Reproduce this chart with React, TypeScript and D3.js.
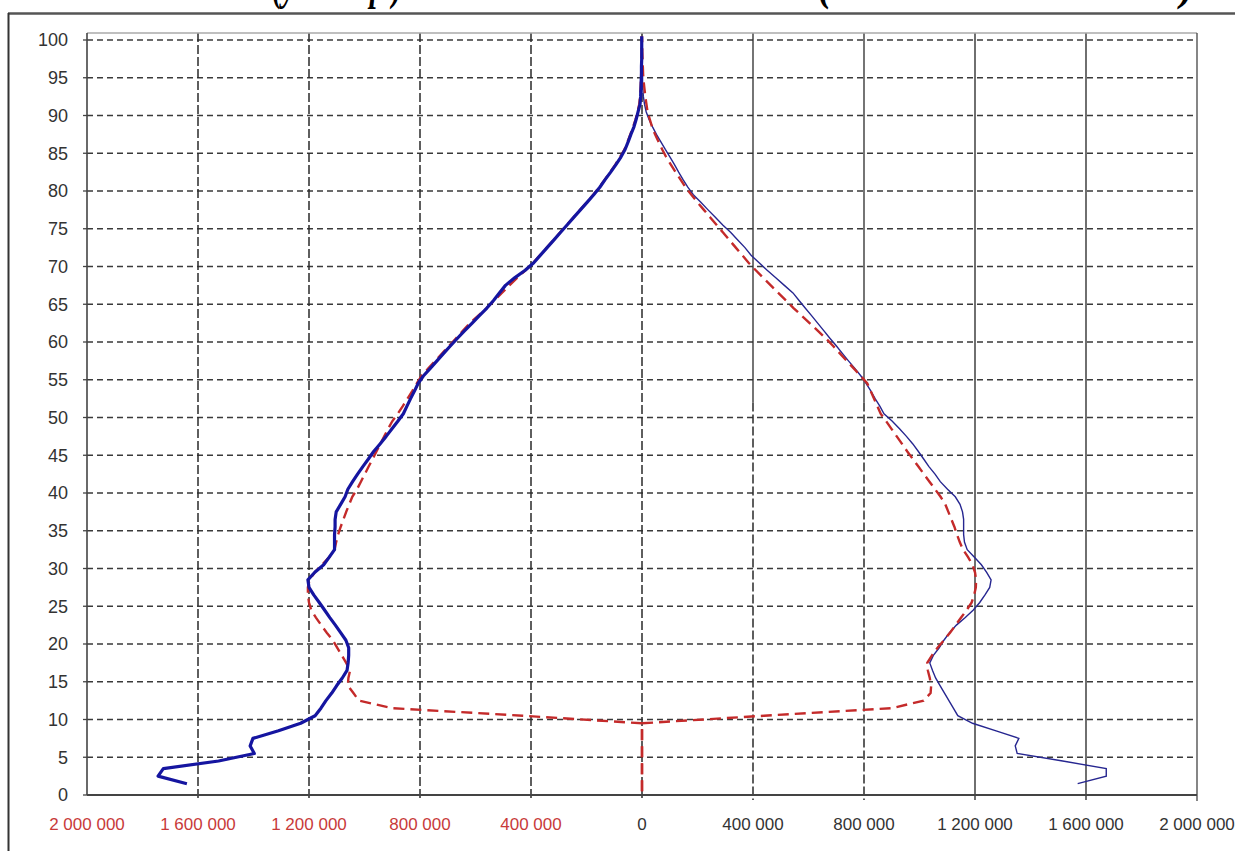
import React, { useEffect, useRef } from 'react';
import * as d3 from 'd3';

// age categories (single years) and axis ticks
const ages = d3.range(0, 101);
const xTickValues = [-2000000, -1600000, -1200000, -800000, -400000, 0, 400000, 800000, 1200000, 1600000, 2000000];
const yTickValues = [0, 5, 10, 15, 20, 25, 30, 35, 40, 45, 50, 55, 60, 65, 70, 75, 80, 85, 90, 95, 100];

// thousands of people, index = age
const leftSolid = [null, 1640, 1744, 1725, 1526, 1397, 1412, 1402, 1310, 1230,
  1178, 1157, 1139, 1118, 1100, 1080, 1063, 1059, 1057, 1057,
  1067, 1086, 1105, 1125, 1144, 1163, 1183, 1200, 1204, 1179,
  1147, 1127, 1108, 1108, 1108, 1106, 1106, 1102, 1086, 1070,
  1060, 1043, 1025, 1006, 986, 967, 944, 922, 901, 880,
  860, 847, 834, 820, 807, 788, 763, 739, 715, 690,
  665, 639, 612, 586, 559, 535, 514, 492, 459, 421,
  390, 366, 342, 318, 294, 270, 246, 222, 198, 174,
  152, 133, 113, 94, 76, 61, 50, 40, 29, 21,
  14, 7, 5, 4, 3, 2, 2, 1, 1, 1, 1];

const leftDashed = [0, 0, 0, 0, 0, 0, 0, 0, 0, 0,
  430, 900, 1020, 1040, 1060, 1058, 1052, 1066, 1082, 1098,
  1114, 1136, 1156, 1175, 1192, 1200, 1204, 1204, 1198, 1179,
  1153, 1127, 1108, 1102, 1095, 1086, 1076, 1066, 1055, 1044,
  1027, 1013, 999, 985, 971, 957, 943, 929, 915, 900,
  880, 862, 845, 828, 812, 795, 770, 745, 720, 695,
  670, 645, 620, 590, 560, 532, 505, 478, 450, 420,
  392, 367, 343, 319, 295, 271, 247, 223, 199, 176,
  154, 134, 115, 96, 79, 63, 52, 42, 32, 23,
  16, 10, 7, 5, 4, 3, 2, 2, 1, 1, 1];

const rightSolid = [null, 1570, 1673, 1673, 1516, 1352, 1345, 1358, 1276, 1191,
  1138, 1122, 1106, 1090, 1074, 1058, 1047, 1037, 1050, 1071,
  1088, 1108, 1133, 1165, 1194, 1217, 1236, 1253, 1258, 1242,
  1223, 1198, 1172, 1162, 1159, 1159, 1159, 1155, 1146, 1129,
  1101, 1075, 1056, 1034, 1015, 996, 976, 953, 928, 902,
  872, 857, 840, 825, 808, 789, 767, 744, 722, 700,
  677, 655, 633, 611, 588, 566, 544, 513, 482, 451,
  422, 393, 371, 345, 320, 291, 265, 238, 212, 185,
  165, 148, 132, 117, 101, 84, 68, 52, 38, 25,
  15, 9, 5, 3, 2, 2, 1, 1, 1, 1, 1];

const rightDashed = [0, 0, 0, 0, 0, 0, 0, 0, 0, 0,
  440, 900, 1015, 1040, 1042, 1037, 1030, 1028, 1045, 1065,
  1088, 1110, 1130, 1150, 1170, 1188, 1197, 1203, 1204, 1200,
  1191, 1175, 1157, 1145, 1135, 1126, 1115, 1104, 1093, 1076,
  1056, 1036, 1016, 996, 976, 956, 937, 918, 899, 880,
  860, 848, 836, 824, 812, 788, 763, 738, 713, 688,
  662, 633, 604, 575, 546, 519, 491, 464, 437, 410,
  384, 361, 338, 315, 292, 269, 246, 223, 200, 178,
  157, 139, 121, 104, 87, 73, 60, 47, 36, 28,
  20, 16, 12, 9, 6, 4, 3, 2, 1, 1, 0];

const titleLeft = '(у 2001 р.)';
const titleRight = '(чоловіки та жінки)';

const W = 1235;
const H = 851;

function drawChart(node: SVGSVGElement) {
  const svg = d3.select(node);
  svg.selectAll('*').remove();

  const left = 87, right = 1197, top = 33, bottom = 795;
  const x = d3.scaleLinear().domain([-2000000, 2000000]).range([left, right]);
  const y = d3.scaleLinear().domain([0, 100]).range([bottom, 40]);
  const fmt = (v: number) => d3.format(',')(Math.abs(v)).replace(/,/g, ' ');
  const font = "'Liberation Sans', Arial, sans-serif";

  svg.append('rect').attr('width', W).attr('height', H).attr('fill', '#fff');

  // title sits above the frame and is cut by the top edge
  svg.append('text').attr('x', 272).attr('y', 0)
    .attr('textLength', 130).attr('lengthAdjust', 'spacingAndGlyphs')
    .style('font-family', "'Liberation Serif', serif").style('font-size', '44px')
    .style('font-weight', 'bold').style('font-style', 'italic')
    .text(titleLeft);
  svg.append('text').attr('x', 818).attr('y', 0)
    .attr('textLength', 376).attr('lengthAdjust', 'spacingAndGlyphs')
    .style('font-family', "'Liberation Serif', serif").style('font-size', '44px')
    .style('font-weight', 'bold').style('font-style', 'italic')
    .text(titleRight);

  // outer frame
  svg.append('line').attr('x1', 8).attr('x2', W).attr('y1', 13.5).attr('y2', 13.5)
    .attr('stroke', '#555').attr('stroke-width', 2.5);
  svg.append('line').attr('x1', 8.5).attr('x2', 8.5).attr('y1', 13).attr('y2', H)
    .attr('stroke', '#333').attr('stroke-width', 2);

  const g = svg.append('g');

  // horizontal grid
  g.selectAll('.hgrid').data(yTickValues.filter(v => v > 0)).enter().append('line')
    .attr('class', 'hgrid')
    .attr('x1', left).attr('x2', right)
    .attr('y1', d => y(d)).attr('y2', d => y(d))
    .attr('stroke', '#3a3a3a').attr('stroke-width', 1.6).attr('stroke-dasharray', '6,4');

  // vertical grid
  const inner = xTickValues.filter(v => v > -2000000 && v < 2000000);
  inner.forEach((v) => {
    if (v <= 0) {
      g.append('line').attr('x1', x(v)).attr('x2', x(v)).attr('y1', top).attr('y2', bottom + 5)
        .attr('stroke', '#2a2a2a').attr('stroke-width', 1.5).attr('stroke-dasharray', '9,3');
    } else if (v < 1200000) {
      g.append('line').attr('x1', x(v)).attr('x2', x(v)).attr('y1', top).attr('y2', y(52))
        .attr('stroke', '#2a2a2a').attr('stroke-width', 1.3);
      g.append('line').attr('x1', x(v)).attr('x2', x(v)).attr('y1', y(52)).attr('y2', bottom + 5)
        .attr('stroke', '#2a2a2a').attr('stroke-width', 1.5).attr('stroke-dasharray', '9,3');
    } else {
      g.append('line').attr('x1', x(v)).attr('x2', x(v)).attr('y1', top).attr('y2', bottom + 5)
        .attr('stroke', '#222').attr('stroke-width', 1.3);
    }
  });

  // plot border + axes
  g.append('line').attr('x1', left).attr('x2', right).attr('y1', top).attr('y2', top)
    .attr('stroke', '#aaa').attr('stroke-width', 1.5);
  g.append('line').attr('x1', right).attr('x2', right).attr('y1', top).attr('y2', bottom + 6)
    .attr('stroke', '#444').attr('stroke-width', 1.3);
  g.append('line').attr('x1', left).attr('x2', left).attr('y1', top).attr('y2', bottom)
    .attr('stroke', '#444').attr('stroke-width', 1.6);
  g.append('line').attr('x1', left).attr('x2', right).attr('y1', bottom).attr('y2', bottom)
    .attr('stroke', '#444').attr('stroke-width', 1.8);

  g.selectAll('.ytick').data(yTickValues).enter().append('line')
    .attr('class', 'ytick')
    .attr('x1', left - 4).attr('x2', left)
    .attr('y1', d => y(d)).attr('y2', d => y(d))
    .attr('stroke', '#444').attr('stroke-width', 1.3);

  g.selectAll('.ylab').data(yTickValues).enter().append('text')
    .attr('class', 'ylab')
    .attr('x', 68).attr('y', d => y(d)).attr('dy', '0.36em')
    .attr('text-anchor', 'end')
    .style('font-family', font).style('font-size', '18px').style('fill', '#333')
    .text(d => d);

  g.selectAll('.xlab').data(xTickValues).enter().append('text')
    .attr('class', 'xlab')
    .attr('x', d => x(d)).attr('y', 830)
    .attr('text-anchor', 'middle')
    .style('font-family', font).style('font-size', '17px')
    .style('fill', d => (d < 0 ? '#c83a3a' : '#333'))
    .text(d => fmt(d));

  // curves
  const line = (side: number) => d3.line<[number, number | null]>()
    .defined(d => d[1] != null)
    .x(d => x(side * (d[1] as number) * 1000))
    .y(d => y(d[0] + 0.5));

  const pairs = (arr: (number | null)[]) => ages.map((a, i) => [a, arr[i]] as [number, number | null]);

  g.append('path').datum(pairs(rightSolid)).attr('d', line(1))
    .attr('fill', 'none').attr('stroke', '#262690').attr('stroke-width', 1.4);
  g.append('path').datum(pairs(rightDashed)).attr('d', line(1))
    .attr('fill', 'none').attr('stroke', '#c42a2a').attr('stroke-width', 2.4)
    .attr('stroke-dasharray', '11,6');
  g.append('path').datum(pairs(leftDashed)).attr('d', line(-1))
    .attr('fill', 'none').attr('stroke', '#c42a2a').attr('stroke-width', 2.4)
    .attr('stroke-dasharray', '11,6');
  g.append('path').datum(pairs(leftSolid)).attr('d', line(-1))
    .attr('fill', 'none').attr('stroke', '#1515a0').attr('stroke-width', 3.2)
    .attr('stroke-linejoin', 'round');
}

export default function App() {
  const ref = useRef<SVGSVGElement>(null);

  useEffect(() => {
    if (ref.current) drawChart(ref.current);
  }, []);

  return (
    <svg ref={ref} width={W} height={H}
      style={{ position: 'absolute', left: 0, top: 0, display: 'block' }} />
  );
}
